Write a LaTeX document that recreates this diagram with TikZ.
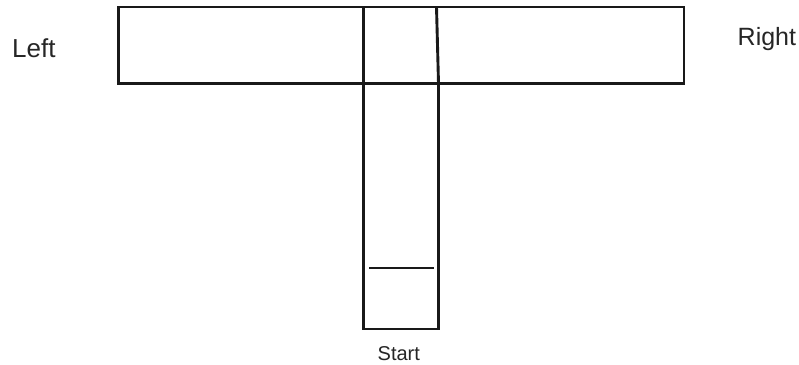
\documentclass[tikz,border=0pt]{standalone}
\usepackage{fontspec}
\setmainfont{Liberation Sans}
\begin{document}
\begin{tikzpicture}[x=1pt,y=-1pt,
  wall/.style={draw=black!90,line width=2.9pt},
  lbl/.style={inner sep=0pt,anchor=base west,text=black!85}]
\useasboundingbox[fill=white] (0,0) rectangle (799,364);
\draw[wall] (118.5,7) rectangle (684,83.5);
\draw[wall] (363.5,83.5) rectangle (438.5,329);
\coordinate (a) at (363.5,7);
\coordinate (b) at (363.5,83.5);
\coordinate (c) at (436.5,7);
\coordinate (d) at (438.5,83.5);
\draw[wall] (a) -- (b);
\draw[wall] (c) -- (d);
\coordinate (e) at (369,268);
\coordinate (f) at (434,268);
\draw[wall,line width=2.5pt] (e) -- (f);
\node[lbl,font=\fontsize{26}{30}\selectfont] (left) at (12,57) {Left};
\node[lbl,font=\fontsize{25}{29}\selectfont] (right) at (737.5,45) {Right};
\node[lbl,font=\fontsize{20}{23}\selectfont] (start) at (377.5,360.5) {Start};
\end{tikzpicture}
\end{document}
